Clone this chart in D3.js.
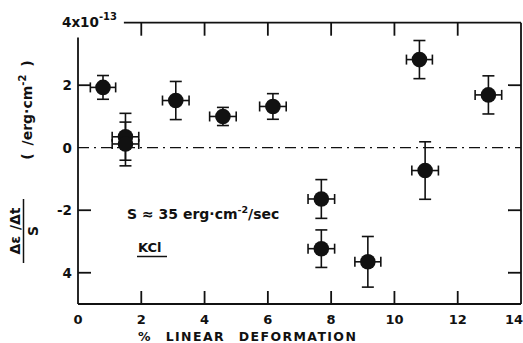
<!DOCTYPE html>
<html>
<head>
<meta charset="utf-8">
<script src="https://cdn.jsdelivr.net/npm/d3@7"></script>
<style>
  body { margin: 0; background: #fff; }
  svg { display: block; }
  text { font-family: "DejaVu Sans", "Liberation Sans", sans-serif; font-weight: bold; fill: #111; }
</style>
</head>
<body>
<svg id="chart" width="523" height="343"></svg>
<script>
// Strain-rate change per unit intensity vs. linear deformation, KCl
const deformation = [0.79, 1.50, 1.50, 3.09, 4.58, 6.16, 7.69, 7.69, 9.16, 10.79, 10.97, 12.97];
const response    = [1.93, 0.35, 0.12, 1.51, 1.00, 1.32, -1.64, -3.23, -3.65, 2.82, -0.73, 1.69];
const responseErr = [0.38, 0.75, 0.70, 0.61, 0.29, 0.41, 0.62, 0.60, 0.81, 0.61, 0.92, 0.61];
const deformErr   = [0.40, 0.42, 0.42, 0.42, 0.42, 0.42, 0.42, 0.42, 0.41, 0.41, 0.42, 0.42];

const xTicks = [0, 2, 4, 6, 8, 10, 12, 14];
const xTickLabels = ["0", "2", "4", "6", "8", "10", "12", "14"];
const yTicks = [2, 0, -2, -4];
const yTickLabels = ["2", "0", "-2", "4"];

const svg = d3.select("#chart");
const x = d3.scaleLinear().domain([0, 14]).range([78, 521]);
const y = d3.scaleLinear().domain([-5, 4]).range([304, 22.7]);

const ink = "#111";
const frame = svg.append("g").attr("stroke", ink).attr("stroke-width", 1.8).attr("fill", "none");
// frame: top edge stops short of the exponent label, left edge starts below it
frame.append("line").attr("x1", x(1.45)).attr("x2", x(14)).attr("y1", y(4)).attr("y2", y(4));
frame.append("line").attr("x1", x(14)).attr("x2", x(14)).attr("y1", y(4)).attr("y2", y(-5));
frame.append("line").attr("x1", x(0)).attr("x2", x(14)).attr("y1", y(-5)).attr("y2", y(-5));
frame.append("line").attr("x1", x(0)).attr("x2", x(0)).attr("y1", y(3.53)).attr("y2", y(-5));

// inward ticks on all four sides
const tickLen = 13;
const innerX = xTicks.filter(v => v > 0 && v < 14);
innerX.forEach(v => {
  frame.append("line").attr("x1", x(v)).attr("x2", x(v)).attr("y1", y(-5)).attr("y2", y(-5) - tickLen);
  frame.append("line").attr("x1", x(v)).attr("x2", x(v)).attr("y1", y(4)).attr("y2", y(4) + tickLen);
});
yTicks.filter(v => v !== 0).forEach(v => {
  frame.append("line").attr("x1", x(0)).attr("x2", x(0) + tickLen).attr("y1", y(v)).attr("y2", y(v));
  frame.append("line").attr("x1", x(14)).attr("x2", x(14) - tickLen).attr("y1", y(v)).attr("y2", y(v));
});

// zero reference line, dash-dot
svg.append("line")
  .attr("x1", x(0)).attr("x2", x(14)).attr("y1", y(0)).attr("y2", y(0))
  .attr("stroke", ink).attr("stroke-width", 1.3)
  .attr("stroke-dasharray", "11,5,2,5");

// tick labels (the last one sits against the right edge)
svg.append("g").selectAll("text").data(xTicks).join("text")
  .attr("x", d => d === 14 ? 523 : x(d)).attr("y", 324)
  .attr("text-anchor", d => d === 14 ? "end" : "middle").attr("font-size", 13)
  .text((d, i) => xTickLabels[i]);

svg.append("g").selectAll("text").data(yTicks).join("text")
  .attr("x", 72).attr("y", d => y(d) + 5)
  .attr("text-anchor", "end").attr("font-size", 13.5)
  .text((d, i) => yTickLabels[i]);

const expo = svg.append("text").attr("x", 62).attr("y", 27).attr("font-size", 13.5);
expo.append("tspan").text("4x10");
expo.append("tspan").attr("dy", -7).attr("font-size", 10).text("-13");

// x axis title
svg.append("text")
  .attr("x", 138).attr("y", 341)
  .attr("font-size", 12.5).attr("letter-spacing", 1.4).attr("word-spacing", 8)
  .text("% LINEAR DEFORMATION");

// y axis title: fraction plus units, rotated
const yl = svg.append("g");
yl.append("text").attr("transform", "translate(20,231) rotate(-90)")
  .attr("text-anchor", "middle").attr("font-size", 14).attr("word-spacing", 1).text("Δε /Δt");
yl.append("line").attr("x1", 23.5).attr("x2", 23.5).attr("y1", 199).attr("y2", 263)
  .attr("stroke", ink).attr("stroke-width", 1.5);
yl.append("text").attr("transform", "translate(38,231) rotate(-90)")
  .attr("text-anchor", "middle").attr("font-size", 14).text("S");
const units = yl.append("text").attr("transform", "translate(32,110) rotate(-90)")
  .attr("text-anchor", "middle").attr("font-size", 14).attr("word-spacing", 3);
units.append("tspan").text("( /erg·cm");
units.append("tspan").attr("dy", -6).attr("font-size", 10).text("-2");
units.append("tspan").attr("dy", 6).text(" )");

// annotation
const ann = svg.append("text").attr("x", 127).attr("y", 219).attr("font-size", 14);
ann.append("tspan").text("S ≈ 35 erg·cm");
ann.append("tspan").attr("dy", -6).attr("font-size", 9.5).text("-2");
ann.append("tspan").attr("dy", 6).text("/sec");
svg.append("text").attr("x", 138).attr("y", 252).attr("font-size", 13).text("KCl");
svg.append("line").attr("x1", 137).attr("x2", 167).attr("y1", 256.5).attr("y2", 256.5)
  .attr("stroke", ink).attr("stroke-width", 1.5);

// error bars and markers
const pts = deformation.map((d, i) => ({ x: d, y: response[i], ey: responseErr[i], ex: deformErr[i] }));
const cap = 6, capX = 5;
const eb = svg.append("g").attr("stroke", ink).attr("stroke-width", 1.6).attr("fill", "none");
pts.forEach(p => {
  const cx = x(p.x), cy = y(p.y);
  const top = y(p.y + p.ey), bot = y(p.y - p.ey);
  const lft = x(p.x - p.ex), rgt = x(p.x + p.ex);
  eb.append("line").attr("x1", cx).attr("x2", cx).attr("y1", top).attr("y2", bot);
  eb.append("line").attr("x1", cx - cap).attr("x2", cx + cap).attr("y1", top).attr("y2", top);
  eb.append("line").attr("x1", cx - cap).attr("x2", cx + cap).attr("y1", bot).attr("y2", bot);
  eb.append("line").attr("x1", lft).attr("x2", rgt).attr("y1", cy).attr("y2", cy);
  eb.append("line").attr("x1", lft).attr("x2", lft).attr("y1", cy - capX).attr("y2", cy + capX);
  eb.append("line").attr("x1", rgt).attr("x2", rgt).attr("y1", cy - capX).attr("y2", cy + capX);
});
svg.append("g").selectAll("circle").data(pts).join("circle")
  .attr("cx", d => x(d.x)).attr("cy", d => y(d.y)).attr("r", 7.8)
  .attr("fill", ink);
</script>
</body>
</html>
